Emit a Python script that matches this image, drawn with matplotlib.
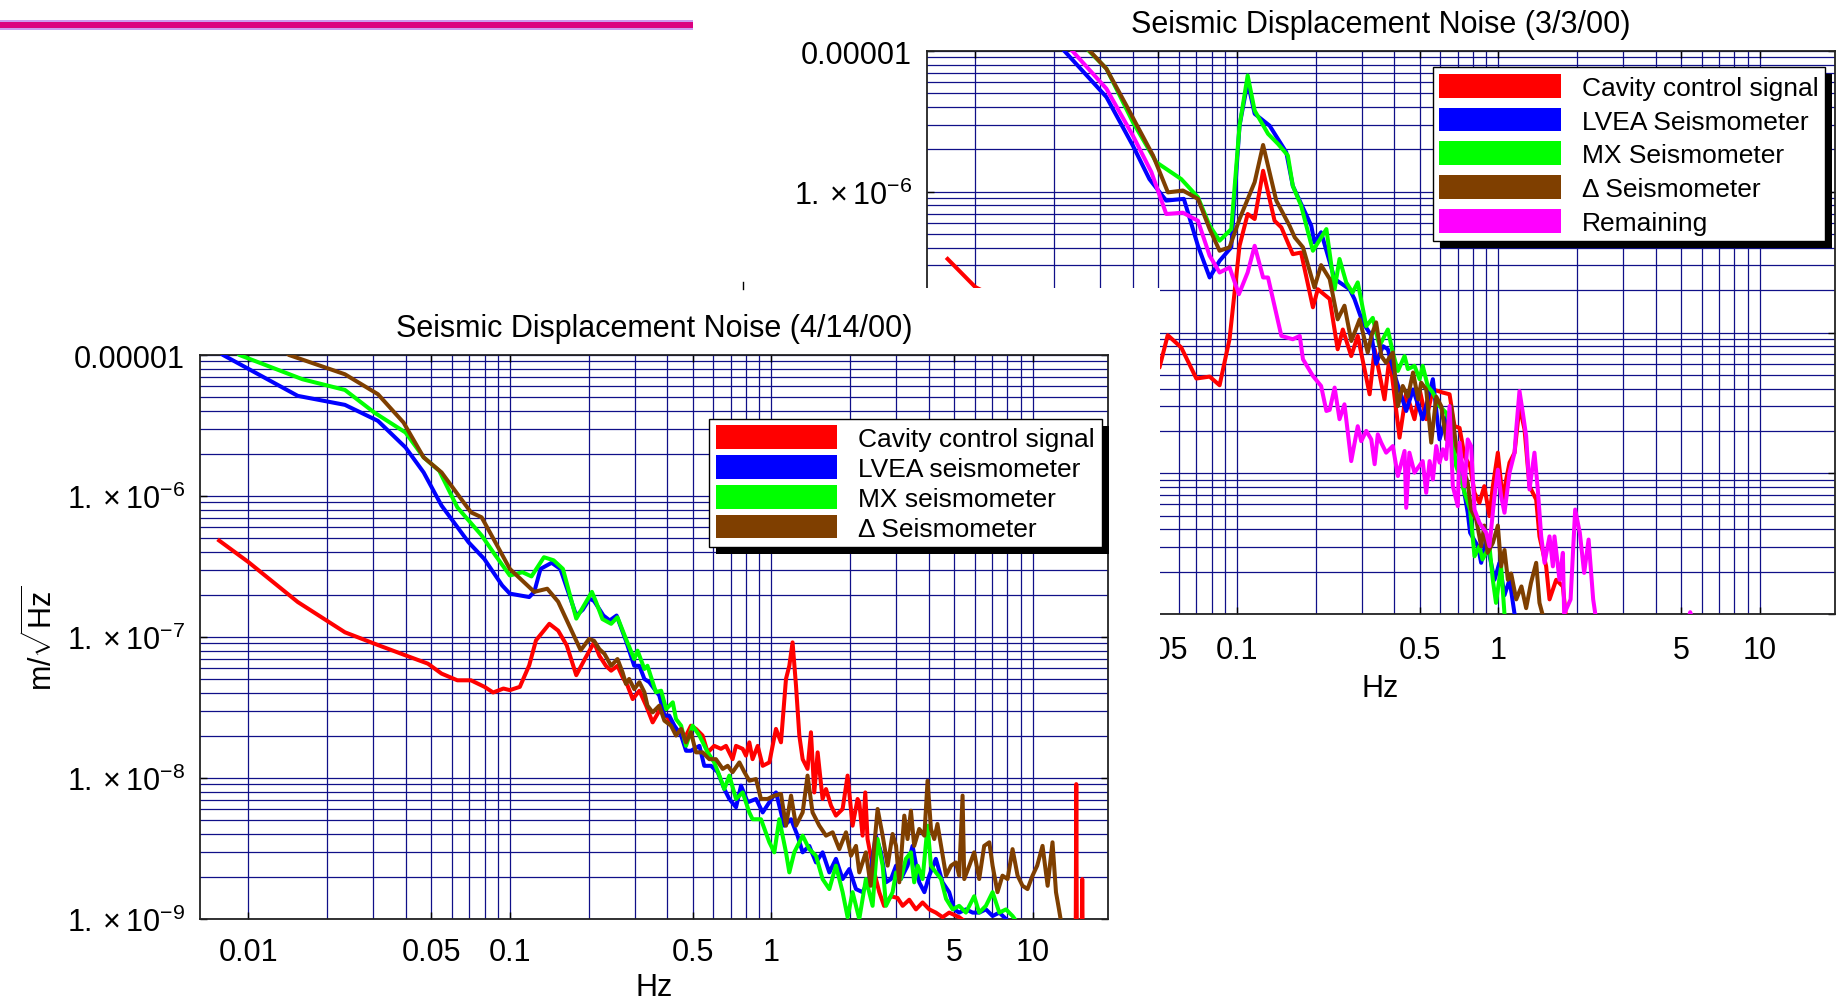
import numpy as np
import matplotlib.pyplot as plt
from matplotlib.patches import Patch, Rectangle
from matplotlib.lines import Line2D
from matplotlib.ticker import NullLocator
from matplotlib.transforms import IdentityTransform

plt.rcParams['font.family'] = ['Liberation Sans', 'DejaVu Sans']
plt.rcParams['mathtext.fontset'] = 'custom'
plt.rcParams['mathtext.rm'] = 'Liberation Sans'
plt.rcParams['mathtext.it'] = 'Liberation Sans:italic'
plt.rcParams['mathtext.bf'] = 'Liberation Sans:bold'

# ---------------- 4/14/00 (front chart) ----------------
f_cav_apr = [0.00773, 0.01, 0.01545, 0.0234, 0.0315, 0.0399, 0.0486, 0.0548, 0.063, 0.071, 0.08, 0.0863,
             0.0945, 0.1, 0.1092, 0.1186, 0.1259, 0.1416, 0.153, 0.165, 0.1795, 0.194, 0.21, 0.22, 0.233,
             0.244, 0.258, 0.27, 0.282, 0.295, 0.313, 0.332, 0.3517, 0.373, 0.396, 0.42, 0.445, 0.472,
             0.493, 0.515, 0.546, 0.571, 0.605, 0.642, 0.671, 0.711, 0.733, 0.777, 0.8, 0.824, 0.848,
             0.887, 0.927, 0.983, 1.042, 1.089, 1.138, 1.172, 1.206, 1.243, 1.28, 1.318, 1.376, 1.418,
             1.46, 1.504, 1.571, 1.619, 1.692, 1.767, 1.874, 1.958, 2.046, 2.138, 2.17, 2.234, 2.288,
             2.334, 2.44, 2.588, 2.7, 2.87, 3.04, 3.18, 3.37, 3.575, 3.79, 4.02, 4.26, 4.52, 4.79, 5.23,
             5.55, 14.6, 14.67, 14.74, 15.4, 15.46, 15.52]
v_cav_apr = [4.83e-7, 3.4e-7, 1.77e-7, 1.08e-7, 8.73e-8, 7.41e-8, 6.47e-8, 5.5e-8, 4.93e-8, 4.93e-8, 4.43e-8,
             4.04e-8, 4.31e-8, 4.2e-8, 4.43e-8, 6.3e-8, 9.47e-8, 1.24e-7, 1.11e-7, 8.73e-8, 5.36e-8, 7.03e-8,
             9.16e-8, 7.36e-8, 6.25e-8, 5.77e-8, 6.25e-8, 5.18e-8, 4.52e-8, 3.63e-8, 4.16e-8, 3.26e-8,
             2.48e-8, 3.0e-8, 2.77e-8, 2.35e-8, 2.11e-8, 2.0e-8, 2.35e-8, 2.23e-8, 2.0e-8, 1.52e-8, 1.69e-8,
             1.61e-8, 1.69e-8, 1.36e-8, 1.69e-8, 1.61e-8, 1.44e-8, 1.79e-8, 1.36e-8, 1.69e-8, 1.22e-8,
             1.29e-8, 2.23e-8, 1.79e-8, 5.04e-8, 6.25e-8, 9.16e-8, 4.52e-8, 2.0e-8, 1.36e-8, 1.16e-8,
             2.11e-8, 7.9e-9, 1.52e-8, 7.1e-9, 8.35e-9, 6.37e-9, 5.41e-9, 6.03e-9, 1.04e-8, 4.59e-9, 7.1e-9,
             6.73e-9, 3.9e-9, 7.9e-9, 3.69e-9, 2.39e-9, 1.55e-9, 1.24e-9, 1.45e-9, 1.41e-9, 1.24e-9,
             1.37e-9, 1.17e-9, 1.31e-9, 1.17e-9, 1.11e-9, 1.03e-9, 1.11e-9, 1.03e-9, 9.5e-10, 8e-10,
             9.05e-9, 8e-10, 8e-10, 1.92e-9, 8e-10]

f_lvea_apr = [0.0075, 0.008, 0.01545, 0.0234, 0.0313, 0.0399, 0.0468, 0.0548, 0.0695, 0.0798, 0.0935, 0.1,
              0.1186, 0.124, 0.131, 0.1445, 0.156, 0.1795, 0.19, 0.202, 0.21, 0.228, 0.241, 0.256, 0.278,
              0.299, 0.313, 0.327, 0.3415, 0.373, 0.39, 0.407, 0.426, 0.452, 0.472, 0.493, 0.531, 0.554,
              0.588, 0.624, 0.661, 0.691, 0.733, 0.766, 0.812, 0.874, 0.927, 0.983, 1.042, 1.121, 1.19,
              1.26, 1.318, 1.397, 1.482, 1.571, 1.667, 1.767, 1.874, 1.988, 2.108, 2.234, 2.37, 2.51,
              2.628, 2.746, 2.87, 3.0, 3.13, 3.32, 3.47, 3.68, 3.85, 4.02, 4.26, 4.52, 4.79, 5.01, 5.23,
              5.55, 5.89, 6.24, 6.62, 7.02, 7.45, 7.9, 8.3]
v_lvea_apr = [1.1e-5, 1e-5, 5.13e-6, 4.43e-6, 3.41e-6, 2.21e-6, 1.47e-6, 8.55e-7, 4.7e-7, 3.58e-7, 2.32e-7,
              2.03e-7, 1.92e-7, 2.09e-7, 3.04e-7, 3.36e-7, 3.04e-7, 1.42e-7, 1.56e-7, 1.87e-7, 1.8e-7,
              1.42e-7, 1.31e-7, 1.42e-7, 9.4e-8, 6.25e-8, 6.25e-8, 5.04e-8, 4.78e-8, 3.84e-8, 2.77e-8,
              2.77e-8, 2.35e-8, 2.0e-8, 1.56e-8, 1.56e-8, 1.69e-8, 1.22e-8, 1.22e-8, 1.1e-8, 8.35e-9,
              7.1e-9, 6.2e-9, 8.83e-9, 6.73e-9, 7.1e-9, 5.7e-9, 6.73e-9, 7.9e-9, 4.59e-9, 5.1e-9, 3.9e-9,
              2.97e-9, 3.3e-9, 2.52e-9, 2.97e-9, 2.14e-9, 2.67e-9, 1.92e-9, 2.26e-9, 1.63e-9, 1.55e-9,
              1.92e-9, 3.9e-9, 2.97e-9, 1.82e-9, 1.92e-9, 2.39e-9, 1.92e-9, 2.39e-9, 3.3e-9, 1.82e-9,
              1.55e-9, 2.03e-9, 2.67e-9, 1.82e-9, 1.55e-9, 1.17e-9, 1.11e-9, 1.17e-9, 1.11e-9, 1.11e-9,
              1.17e-9, 1.05e-9, 1.11e-9, 1.0e-9, 9e-10]

f_mx_apr = [0.0088, 0.00924, 0.0161, 0.0234, 0.0303, 0.0399, 0.0468, 0.0537, 0.063, 0.078, 0.088, 0.1,
            0.1117, 0.121, 0.135, 0.147, 0.1596, 0.1795, 0.206, 0.214, 0.226, 0.244, 0.258, 0.278, 0.299,
            0.308, 0.327, 0.336, 0.362, 0.379, 0.396, 0.42, 0.432, 0.452, 0.472, 0.5, 0.531, 0.571, 0.605,
            0.633, 0.661, 0.691, 0.733, 0.777, 0.824, 0.848, 0.913, 0.983, 1.027, 1.073, 1.138, 1.172,
            1.224, 1.318, 1.397, 1.482, 1.571, 1.667, 1.767, 1.874, 1.958, 2.046, 2.17, 2.3, 2.44, 2.55,
            2.666, 2.746, 2.91, 3.0, 3.13, 3.27, 3.42, 3.52, 3.63, 3.79, 3.96, 4.08, 4.26, 4.46, 4.66,
            4.94, 5.23, 5.55, 5.97, 6.24, 6.62, 7.02, 7.45, 7.9, 8.37, 8.9]
v_mx_apr = [1.1e-5, 1e-5, 6.73e-6, 5.65e-6, 3.91e-6, 2.82e-6, 1.88e-6, 1.51e-6, 8.3e-7, 5.25e-7, 3.8e-7,
            2.73e-7, 2.88e-7, 2.69e-7, 3.68e-7, 3.5e-7, 3.04e-7, 1.35e-7, 2.09e-7, 1.76e-7, 1.34e-7,
            1.24e-7, 1.38e-7, 9.7e-8, 6.98e-8, 8.0e-8, 5.93e-8, 6.25e-8, 4.06e-8, 4.16e-8, 3.08e-8,
            3.44e-8, 2.62e-8, 2.35e-8, 1.69e-8, 2.35e-8, 2.0e-8, 1.52e-8, 1.29e-8, 1.04e-8, 8.35e-9,
            1.04e-8, 7.1e-9, 7.9e-9, 5.7e-9, 5.1e-9, 5.1e-9, 3.5e-9, 2.97e-9, 5.1e-9, 2.97e-9, 2.14e-9,
            2.97e-9, 3.9e-9, 3.13e-9, 2.81e-9, 1.92e-9, 1.63e-9, 2.39e-9, 1.55e-9, 1.03e-9, 1.55e-9,
            1.0e-9, 1.92e-9, 1.24e-9, 3.69e-9, 2.39e-9, 1.24e-9, 1.55e-9, 2.14e-9, 1.92e-9, 2.67e-9,
            2.97e-9, 1.82e-9, 2.39e-9, 1.92e-9, 4.59e-9, 2.39e-9, 2.14e-9, 1.92e-9, 1.39e-9, 1.17e-9,
            1.24e-9, 1.11e-9, 1.45e-9, 1.11e-9, 1.24e-9, 1.55e-9, 1.11e-9, 1.17e-9, 1.05e-9, 9e-10]

f_delta_apr = [0.0135, 0.0143, 0.0234, 0.0313, 0.0392, 0.0468, 0.0548, 0.071, 0.078, 0.088, 0.1, 0.124,
               0.139, 0.153, 0.1866, 0.201, 0.21, 0.22, 0.23, 0.244, 0.258, 0.27, 0.278, 0.286, 0.299,
               0.313, 0.327, 0.336, 0.3517, 0.373, 0.39, 0.4135, 0.432, 0.452, 0.472, 0.493, 0.515, 0.546,
               0.579, 0.614, 0.652, 0.681, 0.711, 0.755, 0.789, 0.824, 0.874, 0.913, 0.968, 1.027, 1.089,
               1.138, 1.19, 1.243, 1.318, 1.376, 1.438, 1.526, 1.619, 1.716, 1.82, 1.931, 2.017, 2.108,
               2.17, 2.3, 2.4, 2.55, 2.666, 2.786, 2.91, 3.0, 3.087, 3.226, 3.32, 3.42, 3.52, 3.68, 3.85,
               3.96, 4.08, 4.2, 4.32, 4.46, 4.66, 4.87, 5.08, 5.23, 5.39, 5.47, 5.72, 5.97, 6.24, 6.52,
               6.82, 7.02, 7.33, 7.66, 8.01, 8.37, 8.75, 9.14, 9.55, 9.98, 10.4, 10.9, 11.4, 11.9, 12.27,
               12.6, 12.9]
v_delta_apr = [1.1e-5, 1e-5, 7.3e-6, 5.27e-6, 3.32e-6, 1.88e-6, 1.47e-6, 7.66e-7, 7.06e-7, 4.7e-7, 3.04e-7,
               2.09e-7, 2.2e-7, 1.78e-7, 8.05e-8, 9.7e-8, 9.4e-8, 8.2e-8, 7.6e-8, 6.25e-8, 6.98e-8, 5.6e-8,
               4.65e-8, 5.04e-8, 4.27e-8, 4.78e-8, 4.06e-8, 3.26e-8, 2.92e-8, 3.26e-8, 2.55e-8, 2.35e-8,
               2.0e-8, 2.23e-8, 1.79e-8, 2.11e-8, 1.52e-8, 1.52e-8, 1.36e-8, 1.36e-8, 1.16e-8, 1.22e-8,
               1.1e-8, 1.29e-8, 1.1e-8, 9.57e-9, 9.83e-9, 7.1e-9, 7.1e-9, 7.5e-9, 7.7e-9, 4.59e-9, 7.5e-9,
               4.59e-9, 5.7e-9, 1.04e-8, 5.7e-9, 4.59e-9, 3.9e-9, 4.12e-9, 3.13e-9, 4.12e-9, 2.81e-9,
               3.3e-9, 2.14e-9, 2.97e-9, 1.72e-9, 6.03e-9, 3.9e-9, 2.39e-9, 4.01e-9, 3.3e-9, 1.82e-9,
               5.41e-9, 3.69e-9, 5.86e-9, 3.3e-9, 4.35e-9, 3.9e-9, 9.57e-9, 4.35e-9, 3.69e-9, 4.72e-9,
               3.3e-9, 2.03e-9, 2.39e-9, 2.52e-9, 2.03e-9, 7.5e-9, 1.92e-9, 2.39e-9, 2.97e-9, 1.92e-9,
               3.3e-9, 3.5e-9, 2.39e-9, 1.55e-9, 2.03e-9, 1.92e-9, 3.13e-9, 2.03e-9, 1.72e-9, 1.63e-9,
               2.03e-9, 2.39e-9, 3.3e-9, 1.72e-9, 3.5e-9, 1.55e-9, 1.17e-9, 9e-10]

# ---------------- 3/3/00 (back chart) ----------------
f_cav_mar = [0.00783, 0.01, 0.02, 0.035, 0.0506, 0.0544, 0.0613, 0.07, 0.0787, 0.0859, 0.0938, 0.1024,
             0.11, 0.117, 0.126, 0.1394, 0.148, 0.1637, 0.176, 0.1954, 0.204, 0.2265, 0.243, 0.2543,
             0.2738, 0.29, 0.322, 0.3365, 0.367, 0.384, 0.419, 0.4445, 0.478, 0.5, 0.53, 0.562, 0.614,
             0.651, 0.68, 0.711, 0.743, 0.78, 0.811, 0.847, 0.884, 0.925, 0.953, 0.996, 1.04, 1.072,
             1.104, 1.154, 1.205, 1.26, 1.316, 1.396, 1.437, 1.524, 1.57, 1.665, 1.766, 1.82]
v_cav_mar = [3.33e-7, 2.1e-7, 1.1e-7, 7e-8, 5.64e-8, 9.57e-8, 7.82e-8, 4.71e-8, 4.86e-8, 4.22e-8, 9e-8,
             4.13e-7, 6.95e-7, 6.4e-7, 1.41e-6, 6.22e-7, 5.58e-7, 3.6e-7, 3.7e-7, 1.51e-7, 2.03e-7,
             1.73e-7, 7.6e-8, 1.05e-7, 6.8e-8, 9.46e-8, 3.64e-8, 7.6e-8, 3.35e-8, 6.8e-8, 1.79e-8,
             3.74e-8, 2.42e-8, 3.94e-8, 2.42e-8, 3.94e-8, 3.74e-8, 3.64e-8, 2.16e-8, 2.1e-8, 1.32e-8,
             1.12e-8, 7.26e-9, 6.17e-9, 8.1e-9, 4.96e-9, 8.1e-9, 1.4e-8, 6.5e-9, 9.03e-9, 1.19e-8, 1.4e-8,
             3.0e-8, 2.05e-8, 8.1e-9, 6.5e-9, 3.56e-9, 2.18e-9, 1.27e-9, 1.75e-9, 1.57e-9, 9e-10]

f_lvea_mar = [0.021, 0.0219, 0.0317, 0.04, 0.0463, 0.0537, 0.0627, 0.071, 0.0787, 0.0859, 0.0952, 0.1024,
              0.11, 0.117, 0.1334, 0.1545, 0.1637, 0.1926, 0.198, 0.21, 0.2366, 0.27, 0.2817, 0.303,
              0.327, 0.341, 0.362, 0.378, 0.406, 0.4445, 0.472, 0.514, 0.562, 0.596, 0.632, 0.67, 0.72,
              0.764, 0.78, 0.835, 0.86, 0.899, 0.967, 1.01, 1.056, 1.104, 1.154, 1.2]
v_lvea_mar = [1.1e-5, 1e-5, 4.71e-6, 2.13e-6, 1.23e-6, 8.65e-7, 8.9e-7, 4.13e-7, 2.46e-7, 3.23e-7, 4.03e-7,
              2.95e-6, 6.01e-6, 3.58e-6, 2.95e-6, 1.91e-6, 1.1e-6, 5.74e-7, 4.36e-7, 5.15e-7, 2.4e-7,
              2.03e-7, 1.73e-7, 1.18e-7, 9.5e-8, 6e-8, 8.0e-8, 7.6e-8, 4.66e-8, 2.77e-8, 3.94e-8, 2.42e-8,
              4.66e-8, 1.74e-8, 2.5e-8, 1.4e-8, 1.01e-8, 5.24e-9, 3.78e-9, 3.03e-9, 2.31e-9, 3.38e-9,
              1.75e-9, 2.31e-9, 1.36e-9, 1.75e-9, 1.0e-9, 9e-10]

f_mx_mar = [0.026, 0.0272, 0.0317, 0.04, 0.0492, 0.0613, 0.071, 0.0787, 0.0859, 0.0952, 0.1024, 0.11,
            0.117, 0.1316, 0.1436, 0.1567, 0.1637, 0.176, 0.1954, 0.22, 0.2366, 0.247, 0.262, 0.277, 0.29,
            0.3126, 0.331, 0.351, 0.378, 0.395, 0.413, 0.438, 0.451, 0.478, 0.5, 0.514, 0.537, 0.562,
            0.596, 0.632, 0.66, 0.69, 0.72, 0.743, 0.78, 0.811, 0.847, 0.87, 0.925, 0.953, 0.98, 1.025,
            1.056, 1.09]
v_mx_mar = [1.1e-5, 1e-5, 7.5e-6, 3.13e-6, 1.62e-6, 1.23e-6, 9.14e-7, 5.74e-7, 4.49e-7, 5.43e-7, 2.95e-6,
            6.7e-6, 3.77e-6, 2.58e-6, 2.19e-6, 1.81e-6, 1.1e-6, 8.0e-7, 3.81e-7, 5.43e-7, 2.03e-7,
            3.33e-7, 2.27e-7, 1.92e-7, 2.27e-7, 1.11e-7, 1.27e-7, 8.03e-8, 1.05e-7, 7.2e-8, 5.33e-8,
            6.8e-8, 5.5e-8, 5.8e-8, 4.66e-8, 5.8e-8, 4.17e-8, 3.74e-8, 3.0e-8, 2.69e-8, 2.16e-8, 1.12e-8,
            9.0e-9, 7.26e-9, 5.52e-9, 2.57e-9, 3.03e-9, 2.44e-9, 3.03e-9, 1.75e-9, 1.2e-9, 2.18e-9,
            1.0e-9, 9e-10]

f_delta_mar = [0.026, 0.0274, 0.0317, 0.0378, 0.0478, 0.0545, 0.0622, 0.071, 0.0787, 0.0859, 0.0938,
               0.1024, 0.117, 0.126, 0.1415, 0.159, 0.1665, 0.179, 0.198, 0.21, 0.2265, 0.243, 0.258,
               0.274, 0.295, 0.3166, 0.327, 0.341, 0.357, 0.372, 0.395, 0.413, 0.431, 0.451, 0.472,
               0.494, 0.507, 0.53, 0.554, 0.579, 0.605, 0.632, 0.66, 0.69, 0.73, 0.764, 0.787, 0.824,
               0.86, 0.884, 0.91, 0.953, 0.996, 1.025, 1.056, 1.088, 1.12, 1.171, 1.226, 1.278, 1.333,
               1.396, 1.437, 1.475, 1.5]
v_delta_mar = [1.1e-5, 1e-5, 7.48e-6, 4.1e-6, 1.81e-6, 9.9e-7, 1.02e-6, 8.9e-7, 5.43e-7, 3.81e-7, 4.03e-7,
               6.4e-7, 1.17e-6, 2.15e-6, 8.65e-7, 5.74e-7, 4.74e-7, 4.03e-7, 2.09e-7, 3.01e-7, 2.4e-7,
               1.24e-7, 1.55e-7, 8.7e-8, 1.24e-7, 7.2e-8, 9.46e-8, 1.18e-7, 6.8e-8, 6.1e-8, 7.2e-8, 3.0e-8,
               4.17e-8, 3.5e-8, 5.2e-8, 3.35e-8, 4.4e-8, 3.94e-8, 1.65e-8, 3.5e-8, 3.0e-8, 1.74e-8, 3.0e-8,
               1.56e-8, 1.12e-8, 8.55e-9, 5.52e-9, 4.66e-9, 3.03e-9, 4.25e-9, 2.72e-9, 3.2e-9, 4.25e-9,
               2.18e-9, 2.85e-9, 1.75e-9, 1.94e-9, 1.27e-9, 1.57e-9, 1.1e-9, 1.66e-9, 2.31e-9, 1.2e-9,
               1.0e-9, 9e-10]

f_rem_mar = [0.0225, 0.0235, 0.0317, 0.04, 0.0471, 0.0537, 0.0622, 0.071, 0.0787, 0.0859, 0.0938, 0.1018,
             0.11, 0.117, 0.126, 0.1316, 0.148, 0.1637, 0.174, 0.179, 0.1954, 0.21, 0.22, 0.2265, 0.2366,
             0.247, 0.258, 0.2738, 0.29, 0.299, 0.3126, 0.3267, 0.3365, 0.346, 0.3565, 0.3724, 0.395,
             0.413, 0.438, 0.4445, 0.457, 0.478, 0.514, 0.53, 0.546, 0.562, 0.579, 0.596, 0.614, 0.632,
             0.651, 0.67, 0.7, 0.711, 0.743, 0.764, 0.787, 0.811, 0.847, 0.899, 0.925, 0.967, 0.996,
             1.025, 1.056, 1.104, 1.154, 1.171, 1.205, 1.241, 1.278, 1.316, 1.375, 1.416, 1.459, 1.503,
             1.57, 1.617, 1.64, 1.714, 1.766, 1.786, 1.89, 1.968, 2.05, 2.13, 2.215, 2.306, 2.35, 2.4,
             np.nan, 5.35, 5.42, 5.5]
v_rem_mar = [1.1e-5, 1e-5, 5.4e-6, 2.51e-6, 1.38e-6, 6.95e-7, 7.1e-7, 6.22e-7, 3.51e-7, 2.67e-7, 2.9e-7,
             1.87e-7, 2.67e-7, 4.13e-7, 2.46e-7, 2.46e-7, 9.46e-8, 8.96e-8, 9.46e-8, 6.46e-8, 4.91e-8,
             4.17e-8, 2.77e-8, 2.82e-8, 4.06e-8, 2.42e-8, 3.09e-8, 1.22e-8, 2.16e-8, 1.69e-8, 2.0e-8,
             1.74e-8, 1.16e-8, 1.89e-8, 1.65e-8, 1.4e-8, 1.56e-8, 9.55e-9, 1.44e-8, 5.68e-9, 1.4e-8,
             1.01e-8, 1.22e-8, 7.26e-9, 1.22e-8, 9.03e-9, 1.56e-8, 1.19e-8, 1.48e-8, 1.26e-8, 3.0e-8,
             8.1e-9, 5.84e-9, 1.65e-8, 8.1e-9, 1.74e-8, 1.56e-8, 5.52e-9, 4.44e-9, 3.78e-9, 3.03e-9,
             6.87e-9, 1.06e-8, 6.87e-9, 5.24e-9, 1.01e-8, 1.4e-8, 2.05e-8, 3.84e-8, 2.69e-8, 1.84e-8,
             7.67e-9, 1.4e-8, 7.67e-9, 3.56e-9, 2.31e-9, 3.56e-9, 2.18e-9, 3.56e-9, 1.75e-9, 2.72e-9,
             1.0e-9, 1.27e-9, 5.52e-9, 3.78e-9, 1.96e-9, 3.38e-9, 1.27e-9, 1.0e-9, 9e-10,
             np.nan, 9.5e-10, 1.03e-9, 9.5e-10]

colors = {'cav': '#ff0000', 'lvea': '#0000ff', 'mx': '#00ff00', 'delta': '#7f3f00', 'rem': '#ff00ff'}

labels_apr = ['Cavity control signal', 'LVEA seismometer', 'MX seismometer', '\u0394 Seismometer']
labels_mar = ['Cavity control signal', 'LVEA Seismometer', 'MX Seismometer', '\u0394 Seismometer', 'Remaining']

xtick_vals = [0.01, 0.05, 0.1, 0.5, 1, 5, 10]
xtick_text = ['0.01', '0.05', '0.1', '0.5', '1', '5', '10']
ytick_vals = [1e-9, 1e-8, 1e-7, 1e-6, 1e-5]
ytick_text = [r'$1.\times 10^{-9}$', r'$1.\times 10^{-8}$', r'$1.\times 10^{-7}$',
              r'$1.\times 10^{-6}$', '0.00001']

grid_f = [k * 10.0 ** e for e in (-2, -1, 0) for k in range(1, 10)] + [10.0]
grid_v = [k * 10.0 ** e for e in (-9, -8, -7, -6) for k in range(1, 10)] + [1e-5]

W, H = 1849, 1004
LW = 2.9
fig = plt.figure(figsize=(W / 100, H / 100), dpi=100)


def make_axes(left, top, width=908, height=563):
    return fig.add_axes([left / W, (H - top - height) / H, width / W, height / H])


def setup(ax, title, tick_pad):
    ax.set_xscale('log')
    ax.set_yscale('log')
    ax.set_xlim(0.00653, 19.4)
    ax.set_ylim(1e-9, 1e-5)
    for g in grid_f:
        ax.axvline(g, color='#101088', lw=0.9, zorder=1)
    for g in grid_v:
        ax.axhline(g, color='#101088', lw=0.9, zorder=1)
    ax.xaxis.set_minor_locator(NullLocator())
    ax.yaxis.set_minor_locator(NullLocator())
    ax.set_xticks(xtick_vals, xtick_text)
    ax.set_yticks(ytick_vals, ytick_text)
    ax.tick_params(direction='in', length=5, width=1, labelsize=22, top=True, right=True)
    ax.tick_params(axis='x', pad=tick_pad)
    ax.tick_params(axis='y', pad=11)
    for s in ax.spines.values():
        s.set_color('#222222')
        s.set_linewidth(1.3)
    ax.set_title(title, fontsize=22, pad=14)
    ax.set_xlabel('Hz', fontsize=22)


def add_legend(ax, handles, labels, anchor, spacing):
    leg = ax.legend(handles, labels, loc='upper right', bbox_to_anchor=anchor, fontsize=19,
                    handlelength=4.6, handleheight=1.0, handletextpad=0.8, labelspacing=spacing,
                    borderpad=0.25, borderaxespad=0, fancybox=False, framealpha=1,
                    edgecolor='black')
    leg.get_frame().set_linewidth(1.0)
    leg.set_zorder(10)
    return leg


# back chart (3/3/00)
ax_b = make_axes(927, 52)
setup(ax_b, 'Seismic Displacement Noise (3/3/00)', 15)
# these labels sit under the front picture anyway
for lab in ax_b.get_yticklabels()[:3] + ax_b.get_xticklabels()[:1]:
    lab.set_visible(False)
ax_b.xaxis.set_label_coords(0.499, -0.105)
ax_b.plot(f_cav_mar, v_cav_mar, color=colors['cav'], lw=LW, zorder=3)
ax_b.plot(f_lvea_mar, v_lvea_mar, color=colors['lvea'], lw=LW, zorder=3)
ax_b.plot(f_mx_mar, v_mx_mar, color=colors['mx'], lw=LW, zorder=3)
ax_b.plot(f_delta_mar, v_delta_mar, color=colors['delta'], lw=LW, zorder=3)
ax_b.plot(f_rem_mar, v_rem_mar, color=colors['rem'], lw=LW, zorder=3)
h_mar = [Patch(facecolor=colors[k], edgecolor='none') for k in ('cav', 'lvea', 'mx', 'delta', 'rem')]
leg_b = add_legend(ax_b, h_mar, labels_mar, (0.989, 0.971), 0.3)

# white panel of the front slide picture
fig.add_artist(Rectangle((0, 0), 1160 / W, (H - 289) / H, transform=fig.transFigure,
                         facecolor='white', edgecolor='none', zorder=1))
fig.add_artist(Line2D([743 / W, 743 / W], [(H - 283) / H, (H - 290) / H], color='black', lw=1, zorder=1.5))

# top decoration bar
fig.add_artist(Rectangle((0, (H - 31) / H), 693 / W, 10 / H, transform=fig.transFigure,
                         facecolor='#cc99ee', edgecolor='none', zorder=1))
fig.add_artist(Rectangle((0, (H - 29) / H), 693 / W, 6 / H, transform=fig.transFigure,
                         facecolor='#dc0080', edgecolor='none', zorder=1.1))

# front chart (4/14/00)
ax_f = make_axes(200, 356, height=564)
ax_f.set_zorder(2)
setup(ax_f, 'Seismic Displacement Noise (4/14/00)', 13)
ax_f.xaxis.set_label_coords(0.5, -0.094)
ax_f.set_ylabel(r'm/$\sqrt{\mathrm{Hz}}$', fontsize=22)
ax_f.yaxis.set_label_coords(-0.155, 0.5)
ax_f.plot(f_cav_apr, v_cav_apr, color=colors['cav'], lw=LW, zorder=3)
ax_f.plot(f_lvea_apr, v_lvea_apr, color=colors['lvea'], lw=LW, zorder=3)
ax_f.plot(f_mx_apr, v_mx_apr, color=colors['mx'], lw=LW, zorder=3)
ax_f.plot(f_delta_apr, v_delta_apr, color=colors['delta'], lw=LW, zorder=3)
h_apr = [Patch(facecolor=colors[k], edgecolor='none') for k in ('cav', 'lvea', 'mx', 'delta')]
leg_f = add_legend(ax_f, h_apr, labels_apr, (0.993, 0.887), 0.15)

# black drop shadows under the legends
fig.canvas.draw()
for ax, leg in ((ax_b, leg_b), (ax_f, leg_f)):
    bb = leg.get_window_extent()
    sh = Rectangle((bb.x0 + 7, bb.y0 - 7), bb.width, bb.height, transform=IdentityTransform(),
                   facecolor='black', edgecolor='none', zorder=9)
    ax.add_artist(sh)
    sh.set_clip_on(False)

fig.savefig('out.png', dpi=100, facecolor='white')
